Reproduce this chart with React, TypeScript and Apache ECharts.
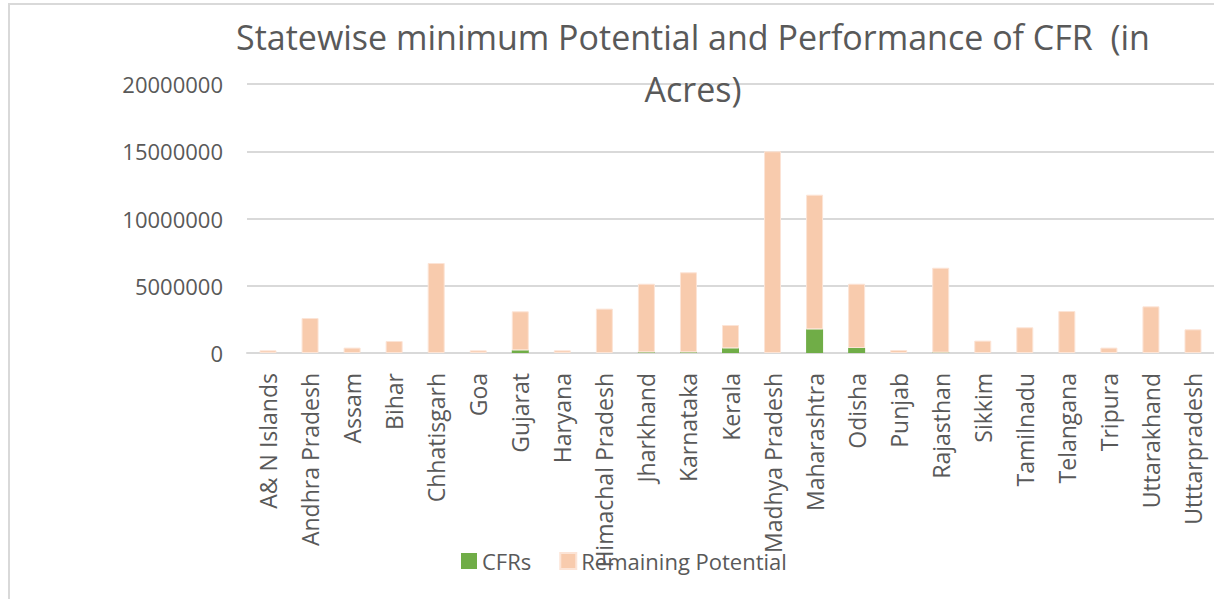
import React, { useEffect, useRef } from "react";
import * as echarts from "echarts";

const states = [
  "A& N Islands", "Andhra Pradesh", "Assam", "Bihar", "Chhatisgarh", "Goa", "Gujarat", "Haryana",
  "Himachal Pradesh", "Jharkhand", "Karnataka", "Kerala", "Madhya Pradesh", "Maharashtra", "Odisha",
  "Punjab", "Rajasthan", "Sikkim", "Tamilnadu", "Telangana", "Tripura", "Uttarakhand", "Utttarpradesh",
];

const cfrs = [
  0, 0, 0, 0, 0, 0, 200000, 0,
  0, 50000, 50000, 350000, 0, 1760000, 370000,
  0, 30000, 0, 0, 0, 0, 0, 0,
];

const remainingPotential = [
  200000, 2600000, 400000, 890000, 6690000, 200000, 2900000, 200000,
  3300000, 5100000, 5950000, 1730000, 15000000, 10010000, 4780000,
  220000, 6310000, 920000, 1910000, 3120000, 400000, 3470000, 1760000,
];

const yTicks = { min: 0, max: 20000000, interval: 5000000 };

const FONT = "'Open Sans', 'Noto Sans', sans-serif";

export default function App() {
  const ref = useRef<HTMLDivElement>(null);
  useEffect(() => {
    if (!ref.current) return;
    const chart = echarts.init(ref.current, null, { renderer: "svg" });
    chart.setOption({
      animation: false,
      backgroundColor: "#ffffff",
      title: {
        text: "Statewise minimum Potential and Performance of CFR  (in\nAcres)",
        left: 693,
        top: 11,
        padding: 0,
        textAlign: "center",
        textStyle: {
          fontFamily: FONT,
          fontSize: 34,
          fontWeight: "normal",
          color: "#595959",
          lineHeight: 52,
        },
      },
      legend: {
        top: 545,
        left: 456,
        itemWidth: 16,
        itemHeight: 16,
        itemGap: 28,
        icon: "rect",
        textStyle: { fontFamily: FONT, fontSize: 22, color: "#595959" },
        data: ["CFRs", "Remaining Potential"],
      },
      grid: { left: 247, top: 84, width: 971, height: 269, containLabel: false },
      xAxis: {
        type: "category",
        data: states,
        axisLine: { lineStyle: { color: "#d9d9d9", width: 2 } },
        axisTick: { show: false },
        axisLabel: {
          rotate: 90,
          interval: 0,
          margin: 20,
          fontFamily: FONT,
          fontSize: 23,
          color: "#595959",
        },
      },
      yAxis: {
        type: "value",
        min: yTicks.min,
        max: yTicks.max,
        interval: yTicks.interval,
        axisLine: { show: false },
        axisTick: { show: false },
        splitLine: { lineStyle: { color: "#d9d9d9", width: 2 } },
        axisLabel: {
          margin: 24,
          fontFamily: FONT,
          fontSize: 22,
          color: "#595959",
          formatter: (v: number) => String(v),
        },
      },
      series: [
        {
          name: "CFRs",
          type: "bar",
          stack: "total",
          data: cfrs,
          barWidth: 17,
          itemStyle: { color: "#70AD47" },
        },
        {
          name: "Remaining Potential",
          type: "bar",
          stack: "total",
          data: remainingPotential,
          barWidth: 17,
          itemStyle: { color: "#F8CBAD", borderColor: "#fce4d6", borderWidth: 1 },
        },
      ],
      graphic: [
        {
          type: "rect",
          shape: { x: 9, y: 4, width: 1400, height: 800 },
          style: { fill: "none", stroke: "#d9d9d9", lineWidth: 2 },
          silent: true,
        },
      ],
    });
    return () => chart.dispose();
  }, []);
  return (
    <div
      ref={ref}
      style={{ position: "fixed", left: 0, top: 0, width: 1214, height: 599 }}
    />
  );
}
